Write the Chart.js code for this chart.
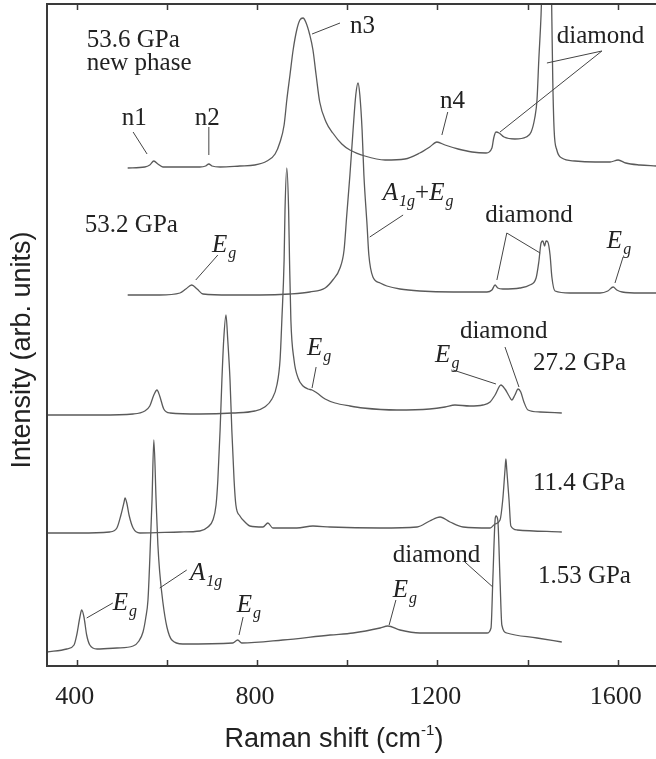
<!DOCTYPE html>
<html>
<head>
<meta charset="utf-8">
<script src="https://cdn.jsdelivr.net/npm/chart.js@4.4.0/dist/chart.umd.min.js"></script>
<style>
  html, body { margin: 0; padding: 0; background: #fff; }
</style>
</head>
<body>
<canvas id="raman" width="656" height="759"></canvas>
<script>
// Raman shift (cm-1) / intensity (arb. units, offset per pressure)
const shift536 = [513,551,562,571,580,591,629,673,686,693,700,718,762,795,822,840,851,860,866,873,880,888,895,902,908,917,924,931,939,953,968,988,1006,1039,1084,1128,1161,1183,1199,1217,1246,1277,1308,1321,1325,1330,1337,1348,1372,1397,1408,1416,1421,1425,1430,1434,1443,1452,1454,1456,1459,1465,1476,1505,1550,1583,1601,1618,1649,1685];
const int536 = [498,499,501,505,502,499,499,499,500,502,500,499,500,501,505,512,524,541,566,591,616,636,646,648,644,631,616,591,564,544,533,522,516,510,506,507,513,519,524,521,517,514,513,518,528,534,533,529,527,529,534,548,566,606,651,706,766,706,646,586,536,516,508,505,504,504,506,503,501,500];

const shift532 = [513,584,629,642,655,667,680,740,806,873,917,951,968,984,993,999,1006,1013,1019,1024,1028,1033,1037,1044,1048,1057,1073,1088,1117,1161,1235,1310,1321,1328,1334,1345,1383,1405,1419,1425,1430,1434,1438,1441,1445,1450,1454,1461,1494,1561,1578,1590,1598,1610,1649,1685];
const int532 = [371,371,373,377,381,377,372,371,371,372,374,378,386,398,416,451,491,536,571,583,571,536,491,441,411,389,383,380,377,375,374,374,376,381,378,377,378,381,388,404,423,425,420,425,424,411,389,375,373,373,375,379,376,374,373,373];

const shift272 = [334,451,525,551,562,571,578,584,593,607,673,746,795,817,833,844,851,855,860,862,866,870,872,875,882,891,902,913,922,933,951,973,1006,1035,1110,1183,1217,1239,1272,1301,1317,1328,1341,1350,1359,1365,1372,1379,1385,1392,1401,1428,1476];
const int272 = [251,251,252,255,260,271,276,270,257,253,252,253,255,259,267,281,306,346,406,456,498,456,406,346,306,288,280,277,276,273,267,263,260,258,256,257,259,261,260,261,264,271,281,277,270,266,271,277,274,264,256,254,253];

const shift114 = [334,407,473,489,498,505,507,511,516,525,540,629,673,691,702,709,713,718,722,726,731,735,740,744,749,753,762,773,784,813,824,835,888,924,962,1073,1155,1183,1206,1228,1257,1317,1328,1339,1345,1350,1352,1354,1359,1363,1377,1476];
const int114 = [133,133,134,138,151,164,168,163,151,138,133,134,135,139,146,161,186,236,286,326,351,326,286,236,186,161,150,144,140,139,143,138,138,140,139,138,139,145,149,144,139,138,142,146,166,196,207,196,166,140,136,134];

const shift153 = [334,378,394,400,407,411,416,422,429,445,489,525,538,547,553,558,562,567,571,576,580,584,591,600,611,635,746,757,766,857,962,1013,1073,1090,1117,1161,1310,1319,1323,1328,1330,1334,1339,1343,1354,1421,1476];
const int153 = [14,17,21,31,49,56,49,31,21,17,18,20,25,34,48,66,106,166,226,166,121,94,64,39,26,22,23,26,23,26,31,33,38,40,36,33,33,38,86,146,150,146,86,41,33,28,24];

const tickLabels = [400, 800, 1200, 1600];
const tickMarks = [400, 600, 800, 1000, 1200, 1400, 1600];

// peak labels: parts are [text, kind] with r = roman, i = italic, s = subscript
const notes = [
    { parts: [['53.6 GPa', 'r']], at: [422, 619] },
    { parts: [['new phase', 'r']], at: [422, 596] },
    { parts: [['n1', 'r']], at: [500, 541] },
    { parts: [['n2', 'r']], at: [662, 541] },
    { parts: [['n3', 'r']], at: [1006, 633] },
    { parts: [['n4', 'r']], at: [1206, 558] },
    { parts: [['diamond', 'r']], at: [1465, 623] },
    { parts: [['53.2 GPa', 'r']], at: [418, 434] },
    { parts: [['E', 'i'], ['g', 's']], at: [700, 414] },
    { parts: [['A', 'i'], ['1g', 's'], ['+', 'r'], ['E', 'i'], ['g', 's']], at: [1079, 466] },
    { parts: [['diamond', 'r']], at: [1306, 444] },
    { parts: [['E', 'i'], ['g', 's']], at: [1576, 418] },
    { parts: [['E', 'i'], ['g', 's']], at: [911, 311] },
    { parts: [['E', 'i'], ['g', 's']], at: [1195, 304] },
    { parts: [['diamond', 'r']], at: [1250, 328] },
    { parts: [['27.2 GPa', 'r']], at: [1412, 296] },
    { parts: [['11.4 GPa', 'r']], at: [1412, 176] },
    { parts: [['E', 'i'], ['g', 's']], at: [480, 56] },
    { parts: [['A', 'i'], ['1g', 's']], at: [651, 86] },
    { parts: [['E', 'i'], ['g', 's']], at: [755, 54] },
    { parts: [['E', 'i'], ['g', 's']], at: [1101, 69] },
    { parts: [['diamond', 'r']], at: [1101, 104] },
    { parts: [['1.53 GPa', 'r']], at: [1423, 83] },
];

// leader lines from label to peak: [x1, y1, x2, y2] in data units
const leaders = [
    [525, 534, 556, 512],
    [693, 539, 693, 511],
    [984, 643, 922, 632],
    [1223, 554, 1210, 531],
    [1565, 615, 1443, 603],
    [1565, 615, 1339, 534],
    [713, 411, 664, 386],
    [1124, 451, 1050, 429],
    [1354, 433, 1332, 386],
    [1354, 433, 1428, 413],
    [1612, 409, 1594, 383],
    [931, 299, 922, 278],
    [1235, 296, 1330, 282],
    [1350, 319, 1381, 279],
    [480, 63, 422, 48],
    [644, 96, 584, 78],
    [769, 49, 760, 31],
    [1108, 66, 1093, 41],
    [1261, 104, 1323, 79],
];

const spectra = [
    { shift: shift536, intensity: int536 },
    { shift: shift532, intensity: int532 },
    { shift: shift272, intensity: int272 },
    { shift: shift114, intensity: int114 },
    { shift: shift153, intensity: int153 },
];

const SERIF = '"Liberation Serif", "Times New Roman", serif';
const SANS = '"Liberation Sans", Arial, sans-serif';
const INK = '#222';

function drawRich(ctx, parts, x, y) {
    let cx = x;
    parts.forEach(([t, kind]) => {
        const sub = kind === 's';
        ctx.font = (kind === 'r' ? '' : 'italic ') + (sub ? 16 : 25) + 'px ' + SERIF;
        ctx.fillText(t, cx, sub ? y + 6 : y);
        cx += ctx.measureText(t).width + (kind === 'i' ? 1 : 0);
    });
}

// frame, inward ticks, tick labels, axis titles and peak labels
const decorations = {
    id: 'decorations',
    afterDraw(chart) {
        const { ctx, chartArea: a, scales: { x, y } } = chart;
        ctx.save();

        ctx.strokeStyle = '#3a3a3a';
        ctx.lineWidth = 2;
        ctx.beginPath();
        ctx.moveTo(a.right, a.top);
        ctx.lineTo(a.left, a.top);
        ctx.lineTo(a.left, a.bottom);
        ctx.lineTo(a.right, a.bottom);
        ctx.stroke();

        ctx.lineWidth = 1.5;
        tickMarks.forEach(v => {
            const px = Math.round(x.getPixelForValue(v)) + 0.5;
            ctx.beginPath();
            ctx.moveTo(px, a.bottom); ctx.lineTo(px, a.bottom - 6);
            ctx.moveTo(px, a.top); ctx.lineTo(px, a.top + 6);
            ctx.stroke();
        });

        ctx.fillStyle = INK;
        ctx.textAlign = 'center';
        ctx.textBaseline = 'alphabetic';
        ctx.font = '26px ' + SERIF;
        tickLabels.forEach(v => ctx.fillText(String(v), x.getPixelForValue(v) - 2, 704));

        // x title with superscript
        ctx.textAlign = 'left';
        const main = 'Raman shift (cm', sup = '-1', close = ')';
        ctx.font = '27px ' + SANS;
        const wMain = ctx.measureText(main).width;
        const wClose = ctx.measureText(close).width;
        ctx.font = '15px ' + SANS;
        const wSup = ctx.measureText(sup).width;
        let tx = 334 - (wMain + wSup + wClose) / 2;
        ctx.font = '27px ' + SANS;
        ctx.fillText(main, tx, 747);
        ctx.font = '15px ' + SANS;
        ctx.fillText(sup, tx + wMain, 735);
        ctx.font = '27px ' + SANS;
        ctx.fillText(close, tx + wMain + wSup, 747);

        // y title
        ctx.save();
        ctx.translate(23, 350);
        ctx.rotate(-Math.PI / 2);
        ctx.textAlign = 'center';
        ctx.textBaseline = 'middle';
        ctx.fillText('Intensity (arb. units)', 0, 0);
        ctx.restore();

        ctx.strokeStyle = '#444';
        ctx.lineWidth = 1;
        leaders.forEach(([x1, y1, x2, y2]) => {
            ctx.beginPath();
            ctx.moveTo(x.getPixelForValue(x1), y.getPixelForValue(y1));
            ctx.lineTo(x.getPixelForValue(x2), y.getPixelForValue(y2));
            ctx.stroke();
        });

        ctx.textAlign = 'left';
        notes.forEach(n => drawRich(ctx, n.parts, x.getPixelForValue(n.at[0]), y.getPixelForValue(n.at[1])));

        ctx.restore();
    }
};

new Chart(document.getElementById('raman'), {
    type: 'scatter',
    data: {
        datasets: spectra.map(s => ({
            data: s.shift.map((v, i) => ({ x: v, y: s.intensity[i] })),
            showLine: true,
            borderColor: '#5a5a5a',
            borderWidth: 1.3,
            pointRadius: 0,
            cubicInterpolationMode: 'monotone',
            fill: false,
        }))
    },
    options: {
        responsive: false,
        animation: false,
        events: [],
        layout: { padding: { left: 47, top: 4, right: 0, bottom: 93 } },
        plugins: { legend: { display: false }, tooltip: { enabled: false } },
        scales: {
            x: { type: 'linear', min: 334, max: 1685, display: false },
            y: { type: 'linear', min: 0, max: 662, display: false }
        }
    },
    plugins: [decorations]
});
</script>
</body>
</html>
